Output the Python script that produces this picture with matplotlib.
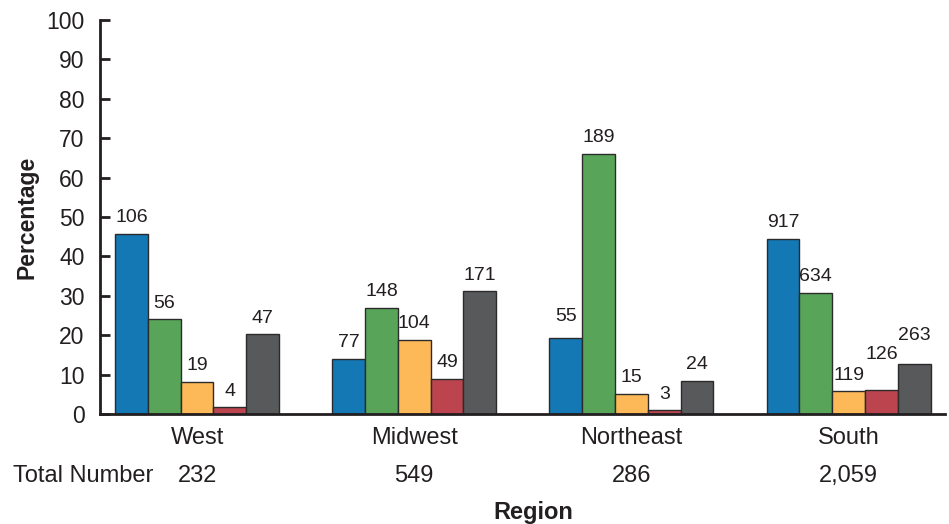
import numpy as np
import matplotlib
matplotlib.use('Agg')
import matplotlib.pyplot as plt
from matplotlib.transforms import blended_transform_factory

plt.rcParams['font.family'] = ['Liberation Sans', 'DejaVu Sans']

regions = ['West', 'Midwest', 'Northeast', 'South']
totals = ['232', '549', '286', '2,059']

# percentage per region for each of the 5 series
pct_blue = [45.7, 14.0, 19.2, 44.5]
pct_green = [24.1, 27.0, 66.1, 30.8]
pct_orange = [8.2, 18.9, 5.2, 5.8]
pct_red = [1.7, 8.9, 1.0, 6.1]
pct_gray = [20.3, 31.1, 8.4, 12.8]

# counts shown above each bar
n_blue = [106, 77, 55, 917]
n_green = [56, 148, 189, 634]
n_orange = [19, 104, 15, 119]
n_red = [4, 49, 3, 126]
n_gray = [47, 171, 24, 263]

series = [
    (pct_blue, n_blue, '#1378b4'),
    (pct_green, n_green, '#58a55a'),
    (pct_orange, n_orange, '#fdb957'),
    (pct_red, n_red, '#bc444e'),
    (pct_gray, n_gray, '#58595b'),
]

# extra lift (points) for labels that were staggered in the original
nudge = {(0, 2): 4, (3, 3): 14, (4, 3): 9}

fig = plt.figure(figsize=(9.49, 5.24), dpi=100)
ax = fig.add_axes([0.1054, 0.2099, 0.8904, 0.7519])

x = np.arange(len(regions))
w = 0.151
for i, (vals, counts, col) in enumerate(series):
    xs = x + (i - 2) * w
    ax.bar(xs, vals, width=w, color=col, edgecolor='#2b2b2b', linewidth=1.0, zorder=2)
    for j, (xx, v, c) in enumerate(zip(xs, vals, counts)):
        off = 11.5 + nudge.get((i, j), 0)
        ax.annotate(str(c), (xx, v), xytext=(0, off), textcoords='offset points',
                    ha='center', va='center', fontsize=14, color='#231f20')

ax.set_xlim(-0.447, 3.444)
ax.set_ylim(0, 100)
ax.set_yticks(range(0, 101, 10))
ax.tick_params(axis='y', direction='in', length=7, width=2, labelsize=16.5,
               colors='#231f20', pad=11)
ax.set_xticks(x)
ax.set_xticklabels(regions)
ax.tick_params(axis='x', length=0, labelsize=17, colors='#231f20', pad=9)

for s in ['top', 'right']:
    ax.spines[s].set_visible(False)
ax.spines['left'].set_linewidth(2)
ax.spines['bottom'].set_linewidth(2)
ax.spines['left'].set_color('#231f20')
ax.spines['bottom'].set_color('#231f20')

ax.set_ylabel('Percentage', fontsize=16.5, fontweight='bold', color='#231f20', labelpad=6)

trans = blended_transform_factory(ax.transData, ax.transAxes)
for xx, t in zip(x, totals):
    ax.text(xx, -0.157, t, transform=trans, ha='center', va='center',
            fontsize=17, color='#231f20')
fig.text(13 / 949, 1 - 476 / 524, 'Total Number', ha='left', va='center',
         fontsize=17, color='#231f20')
fig.text(533 / 949, 1 - 512 / 524, 'Region', ha='center', va='center',
         fontsize=17, fontweight='bold', color='#231f20')

fig.savefig('out.png', dpi=100)
